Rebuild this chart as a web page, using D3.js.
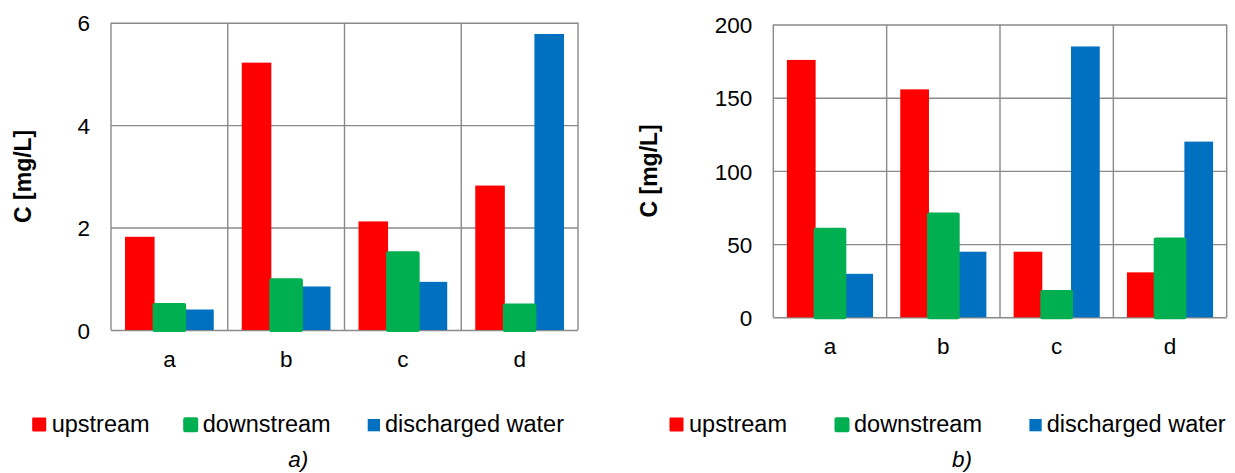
<!DOCTYPE html>
<html>
<head>
<meta charset="utf-8">
<script src="https://cdn.jsdelivr.net/npm/d3@7"></script>
<style>
  html, body { margin: 0; padding: 0; background: #fff; }
  text { font-family: "Liberation Sans", Arial, sans-serif; fill: #000; }
</style>
</head>
<body>
<svg id="chart" width="1235" height="473"></svg>
<script>
// ---- data ----
const categories = ["a", "b", "c", "d"];
const seriesNames = ["upstream", "downstream", "discharged water"];
const seriesColors = ["#FF0000", "#00B050", "#0070C0"];

// chart a)
const upstreamA = [1.82, 5.22, 2.12, 2.82];
const downstreamA = [0.49, 0.97, 1.50, 0.48];
const dischargedA = [0.40, 0.85, 0.94, 5.78];
const ticksA = [0, 2, 4, 6];

// chart b)
const upstreamB = [175.8, 155.7, 44.8, 30.7];
const downstreamB = [59.8, 70.3, 17.3, 53.2];
const dischargedB = [29.7, 44.8, 185, 120];
const ticksB = [0, 50, 100, 150, 200];

const yTitle = "C [mg/L]";
const captions = ["a)", "b)"];

const svg = d3.select("#chart");
svg.append("rect").attr("width", 1235).attr("height", 473).attr("fill", "#fff");

function drawChart(cfg) {
  const g = svg.append("g");
  const { left, right, top, bottom } = cfg;
  const series = [cfg.up, cfg.down, cfg.dis];

  const y = d3.scaleLinear().domain([0, d3.max(cfg.ticks)]).range([bottom, top]);
  const x0 = d3.scaleBand().domain(categories).range([left, right])
    .paddingInner(0.24).paddingOuter(0.12);
  const x1 = d3.scaleBand().domain(d3.range(3)).range([0, x0.bandwidth()]).padding(0);
  const xb = d3.scaleLinear().domain([0, categories.length]).range([left, right]);

  // horizontal gridlines
  g.append("g")
    .attr("transform", `translate(${left},0)`)
    .call(d3.axisLeft(y).tickValues(cfg.ticks).tickSize(-(right - left)).tickFormat(""))
    .call(s => s.select(".domain").remove())
    .call(s => s.selectAll("line").attr("stroke", "#8a8a8a").attr("stroke-width", 1.4));

  // vertical category boundaries
  g.append("g").selectAll("line")
    .data(d3.range(categories.length + 1))
    .join("line")
    .attr("x1", d => xb(d)).attr("x2", d => xb(d))
    .attr("y1", top).attr("y2", bottom)
    .attr("stroke", "#8a8a8a").attr("stroke-width", 1.4);

  // bars: draw order red, blue, green
  const order = [0, 2, 1];
  order.forEach(si => {
    const vals = series[si];
    const sel = g.append("g").selectAll("rect")
      .data(categories.map((c, i) => ({ c, v: vals[i] })))
      .join("rect")
      .attr("x", d => x0(d.c) + x1(si))
      .attr("width", x1.bandwidth())
      .attr("y", d => y(d.v))
      .attr("height", d => y(0) - y(d.v))
      .attr("fill", seriesColors[si]);
    if (si === 1) {
      sel.attr("stroke", seriesColors[si]).attr("stroke-width", 4).attr("stroke-linejoin", "round");
    }
  });

  // y tick labels
  g.append("g")
    .attr("transform", `translate(${left},0)`)
    .call(d3.axisLeft(y).tickValues(cfg.ticks).tickFormat(d3.format("d")).tickSize(0).tickPadding(21))
    .call(s => s.select(".domain").remove())
    .call(s => s.selectAll("text")
      .attr("font-size", 22.5).attr("dy", "0.36em")
      .style("font-family", "'Liberation Sans', Arial, sans-serif").attr("fill", "#000"));

  // x category labels
  g.append("g")
    .attr("transform", `translate(0,${bottom})`)
    .call(d3.axisBottom(x0).tickSize(0))
    .call(s => s.select(".domain").remove())
    .call(s => s.selectAll("text")
      .attr("font-size", 22.5).attr("y", 37).attr("dy", null)
      .style("font-family", "'Liberation Sans', Arial, sans-serif").attr("fill", "#000"));

  // y axis title
  g.append("text")
    .attr("transform", `translate(${cfg.titleX},${(top + bottom) / 2}) rotate(-90)`)
    .attr("text-anchor", "middle")
    .attr("font-size", 23).attr("font-weight", "bold")
    .text(yTitle);

  // legend
  seriesNames.forEach((name, i) => {
    const tx = cfg.legendX[i];
    const ly = 431.7;
    if (i === 0) {
      g.append("rect").attr("x", tx - 19.5).attr("y", ly - 14.2).attr("width", 14).attr("height", 14)
        .attr("fill", seriesColors[i]).attr("rx", 1);
    } else if (i === 1) {
      g.append("rect").attr("x", tx - 17.5).attr("y", ly - 12.5).attr("width", 11).attr("height", 11)
        .attr("fill", seriesColors[i]).attr("stroke", seriesColors[i]).attr("stroke-width", 4)
        .attr("stroke-linejoin", "round");
    } else {
      g.append("rect").attr("x", tx - 17.3).attr("y", ly - 12.7).attr("width", 12.3).attr("height", 12.3)
        .attr("fill", seriesColors[i]);
    }
    g.append("text").attr("x", tx).attr("y", ly)
      .attr("font-size", 23.5).text(name);
  });

  // caption
  g.append("text").attr("x", cfg.captionX).attr("y", 467)
    .attr("text-anchor", "middle").attr("font-size", 22.5).attr("font-style", "italic")
    .text(cfg.caption);
}

drawChart({
  left: 111, right: 578, top: 22.7, bottom: 330,
  up: upstreamA, down: downstreamA, dis: dischargedA, ticks: ticksA,
  titleX: 30.5, legendX: [51.7, 202.7, 385], captionX: 298.3, caption: captions[0]
});

drawChart({
  left: 773.3, right: 1226.7, top: 24.5, bottom: 317.3,
  up: upstreamB, down: downstreamB, dis: dischargedB, ticks: ticksB,
  titleX: 657, legendX: [689, 854, 1046.7], captionX: 962, caption: captions[1]
});
</script>
</body>
</html>
